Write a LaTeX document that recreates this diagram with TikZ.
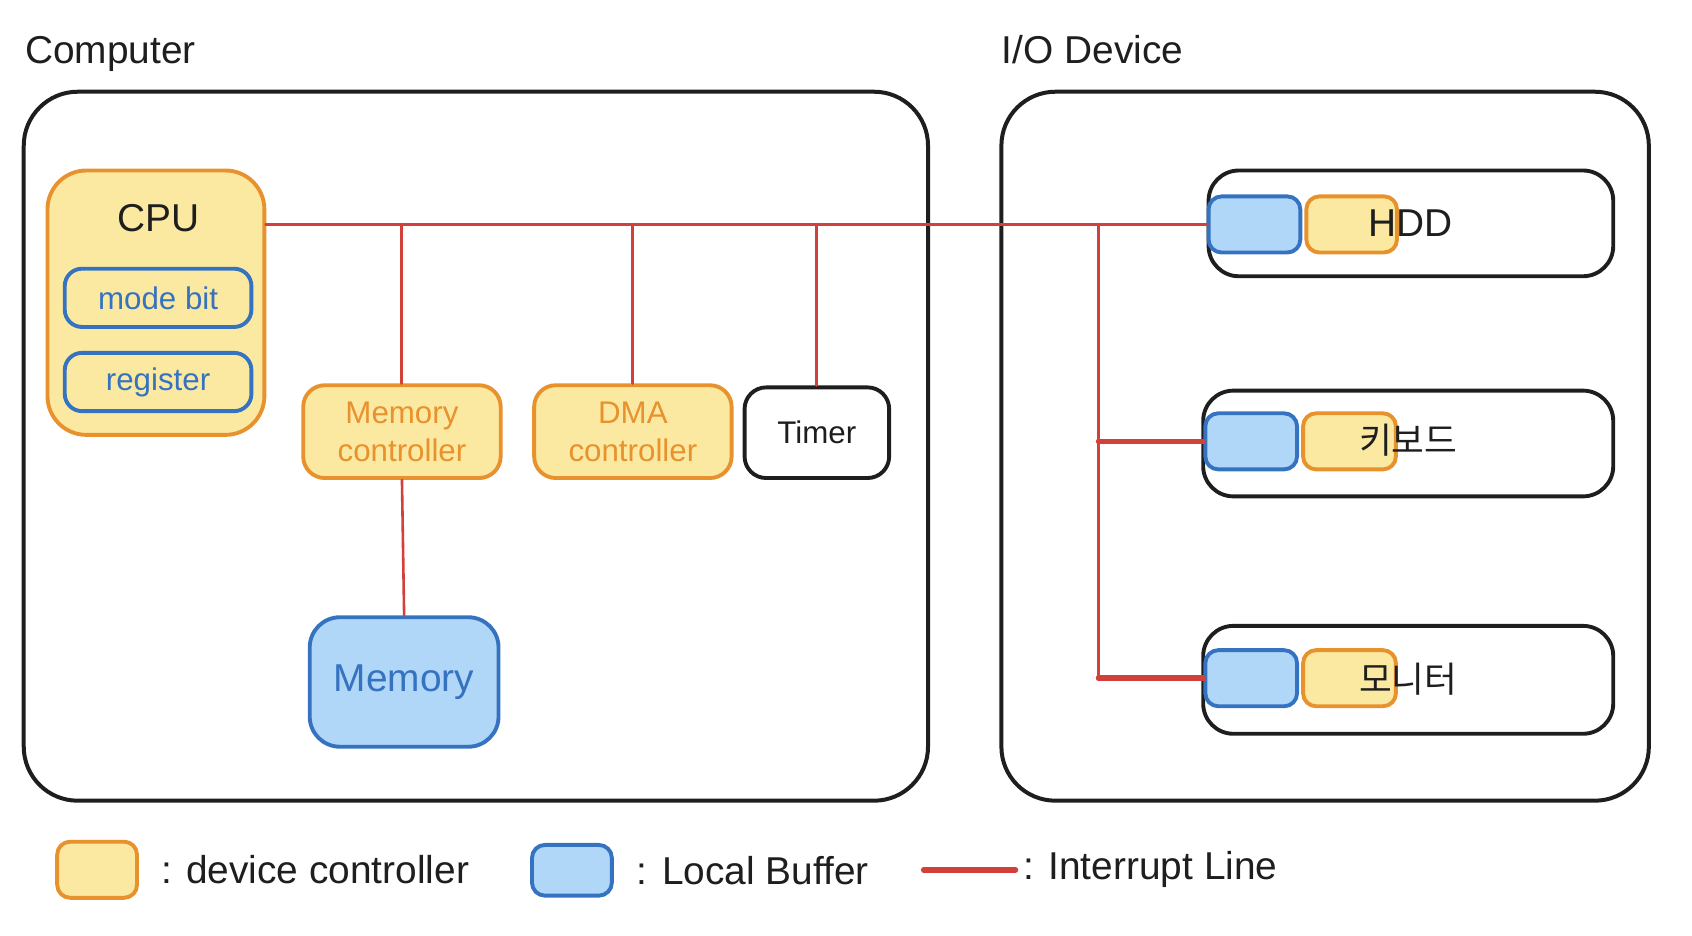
\documentclass[tikz,border=0pt]{standalone}
\usepackage{fontspec}
\setmainfont{Liberation Sans}
\newfontfamily\hangul{Noto Sans CJK KR}
\usepackage{xcolor}
\definecolor{butter}{HTML}{FBE9A2}
\definecolor{tangerine}{HTML}{E8922E}
\definecolor{sky}{HTML}{B0D6F8}
\definecolor{cobalt}{HTML}{3573C0}
\definecolor{brick}{HTML}{D2403B}
\definecolor{ink}{HTML}{1E1E1E}
\newcommand{\grande}{\fontsize{18pt}{21pt}\selectfont}
\newcommand{\medio}{\fontsize{14.5pt}{17.5pt}\selectfont}
\usetikzlibrary{positioning}

\begin{document}
\begin{tikzpicture}[x=0.5pt, y=-0.5pt, line join=round, line cap=round,
	frame/.style={draw=ink, line width=1.85pt, rounded corners=25pt},
	ctrl/.style={draw=tangerine, fill=butter, line width=1.8pt, rounded corners=10pt, text=tangerine, font=\medio, align=center},
	buf/.style={draw=cobalt, fill=sky, line width=1.8pt, rounded corners=6pt, text=cobalt},
	reg/.style={draw=cobalt, line width=1.8pt, rounded corners=8pt, text=cobalt, font=\medio, minimum width=86.5pt, minimum height=27pt},
	dev/.style={draw=ink, line width=1.8pt, rounded corners=14pt, minimum height=49pt},
	irq/.style={draw=brick, line width=1.4pt},
	caption/.style={font=\grande, text=ink, inner sep=0pt},
	hangulcap/.style={caption, font=\hangul\fontsize{16.5pt}{19pt}\selectfont}]
			\useasboundingbox (0,0) rectangle (1568,867.4);
			
			\node [frame, minimum width=419pt, minimum height=328.5pt] (comp) at (441,413.5) {};
			\node [frame, minimum width=300pt, minimum height=328.5pt] (io) at (1228,413.5) {};
			\node [caption, anchor=base west] (comptitle) at (23,58.4) {Computer};
			\node [caption, anchor=base west] (iotitle) at (928,58.4) {I/O Device};
			
			\node [ctrl, minimum width=100.5pt, minimum height=122.5pt, rounded corners=18pt] (cpu) at (144.5,280.5) {};
			\node [caption] (cputext) at (147,202) {CPU};
			\node [reg] (modebit) at (146.5,276) {mode bit};
			\node [reg] (register) at (146.5,354) {register};
			
			\node [ctrl, minimum width=91.5pt, minimum height=43pt] (mc) at (372.5,400) {Memory\\controller};
			\node [ctrl, minimum width=91.5pt, minimum height=43pt] (dma) at (586.5,400) {DMA\\controller};
			\node [draw=ink, fill=white, line width=1.8pt, rounded corners=10pt, font=\medio, text=ink, minimum width=67pt, minimum height=42pt] (timer) at (757,401) {Timer};
			\node [buf, font=\grande, rounded corners=14pt, minimum width=87.5pt, minimum height=60pt] (memory) at (374.5,632) {Memory};
			
			\node [dev, minimum width=187.5pt] (hdd) at (1307.5,207) {};
			\node [dev, minimum width=190pt] (kbd) at (1305,411) {};
			\node [dev, minimum width=190pt, minimum height=50pt] (mon) at (1305,630) {};
			\node [buf, minimum width=42.5pt, minimum height=26pt] (hddbuf) at (1162.5,208) {};
			\node [ctrl, minimum width=42pt, minimum height=26pt, rounded corners=6pt, right=1pt of hddbuf] (hddctrl) {};
			\node [buf, minimum width=42.5pt, minimum height=26pt] (kbdbuf) at (1159.5,409) {};
			\node [ctrl, minimum width=43pt, minimum height=26pt, rounded corners=6pt, right=1pt of kbdbuf] (kbdctrl) {};
			\node [buf, minimum width=42.5pt, minimum height=26pt] (monbuf) at (1159.5,628.5) {};
			\node [ctrl, minimum width=43pt, minimum height=26pt, rounded corners=6pt, right=1pt of monbuf] (monctrl) {};
			\node [caption] (hddtext) at (hdd.center) {HDD};
			\node [hangulcap] (kbdtext) at (1305,408) {키보드};
			\node [hangulcap] (montext) at (1305,629) {모니터};
			
			\coordinate (bus) at (0,208);
			\coordinate (drop) at (1018,208);
			\draw [irq, line width=1.8pt] (cpu.east |- bus) -- (hddbuf.west);
			\draw [irq] (mc.north) -- (mc.north |- bus);
			\draw [irq] (dma.north) -- (dma.north |- bus);
			\draw [irq] (timer.north) -- (timer.north |- bus);
			\draw [irq, line width=1.2pt] (mc.south) -- (memory.north);
			\draw [irq] (drop) -- (drop |- monbuf.west);
			\draw [irq, line width=2.6pt] (drop |- kbdbuf.west) -- (kbdbuf.west);
			\draw [irq, line width=2.6pt] (drop |- monbuf.west) -- (monbuf.west);
			
			\node [ctrl, minimum width=37pt, minimum height=26pt, rounded corners=6pt] (keyctrl) at (90,806) {};
			\node [caption, right=10pt of keyctrl] (keyctrltext) {: device controller};
			\node [buf, minimum width=37pt, minimum height=23.5pt] (keybuf) at (530,806.5) {};
			\node [caption, right=10.5pt of keybuf] (keybuftext) {: Local Buffer};
			\coordinate (keyirqa) at (856,806);
			\coordinate (keyirqb) at (941,806);
			\draw [irq, line width=2.6pt] (keyirqa) -- (keyirqb);
			\node [caption, right=3.5pt of keyirqb] (keyirqtext) {: Interrupt Line};
		\end{tikzpicture}
\end{document}
